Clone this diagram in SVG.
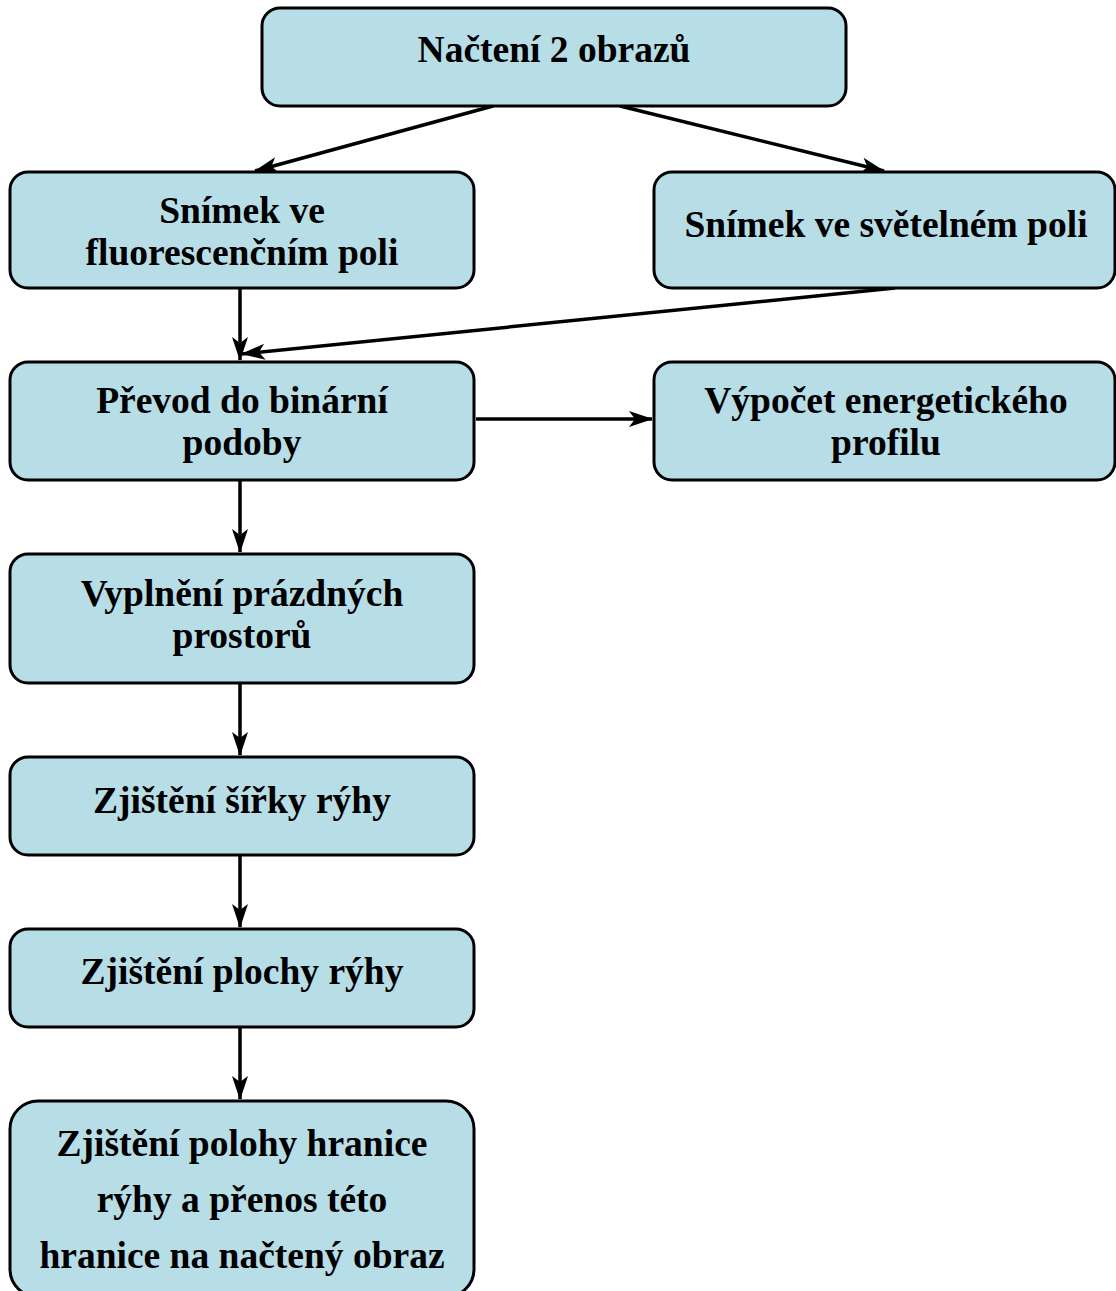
<svg xmlns="http://www.w3.org/2000/svg" width="1116" height="1291" viewBox="0 0 1116 1291">
<style>
.box{fill:#b7dde7;stroke:#000;stroke-width:3}
.t{font-family:"Liberation Serif","Times New Roman",serif;font-weight:bold;font-size:37.5px;fill:#000;text-anchor:middle}
.c{stroke:#000;stroke-width:3.5;fill:none;marker-end:url(#ah)}
</style>
<defs>
<marker id="ah" markerUnits="userSpaceOnUse" markerWidth="24" markerHeight="18" viewBox="0 0 24 18" refX="23" refY="9" orient="auto">
<path d="M0,1 L24,9 L0,17 L6,9 Z" fill="#000"/>
</marker>
</defs>
<rect width="1116" height="1291" fill="#fff"/>
<g id="connectors">
<line class="c" x1="493" y1="106" x2="255" y2="171"/>
<line class="c" x1="620" y1="106" x2="884" y2="171"/>
<line class="c" x1="240" y1="288" x2="240" y2="360"/>
<line class="c" x1="895" y1="288" x2="242" y2="354"/>
<line class="c" x1="476" y1="419" x2="652" y2="419"/>
<line class="c" x1="240" y1="480" x2="240" y2="552"/>
<line class="c" x1="240" y1="683" x2="240" y2="755"/>
<line class="c" x1="240" y1="855" x2="240" y2="927"/>
<line class="c" x1="240" y1="1027" x2="240" y2="1099"/>
</g>
<g id="n1"><rect class="box" x="262" y="8" width="584" height="98" rx="18"/><text class="t" x="554" y="62">Načtení 2 obrazů</text></g>
<g id="n2"><rect class="box" x="10" y="172" width="464" height="116" rx="18"/><text class="t" x="242" y="223">Snímek ve</text><text class="t" x="242" y="265">fluorescenčním poli</text></g>
<g id="n3"><rect class="box" x="654" y="172" width="461" height="116" rx="18"/><text class="t" x="886" y="237">Snímek ve světelném poli</text></g>
<g id="n4"><rect class="box" x="10" y="362" width="464" height="118" rx="18"/><text class="t" x="242" y="413">Převod do binární</text><text class="t" x="242" y="455">podoby</text></g>
<g id="n5"><rect class="box" x="654" y="362" width="461" height="118" rx="18"/><text class="t" x="886" y="413">Výpočet energetického</text><text class="t" x="886" y="455">profilu</text></g>
<g id="n6"><rect class="box" x="10" y="554" width="464" height="129" rx="18"/><text class="t" x="242" y="606">Vyplnění prázdných</text><text class="t" x="242" y="648">prostorů</text></g>
<g id="n7"><rect class="box" x="10" y="757" width="464" height="98" rx="18"/><text class="t" x="242" y="813">Zjištění šířky rýhy</text></g>
<g id="n8"><rect class="box" x="10" y="929" width="464" height="98" rx="18"/><text class="t" x="242" y="984">Zjištění plochy rýhy</text></g>
<g id="n9"><rect class="box" x="10" y="1101" width="464" height="196" rx="28"/><text class="t" x="242" y="1156">Zjištění polohy hranice</text><text class="t" x="242" y="1212">rýhy a přenos této</text><text class="t" x="242" y="1268">hranice na načtený obraz</text></g>
</svg>
